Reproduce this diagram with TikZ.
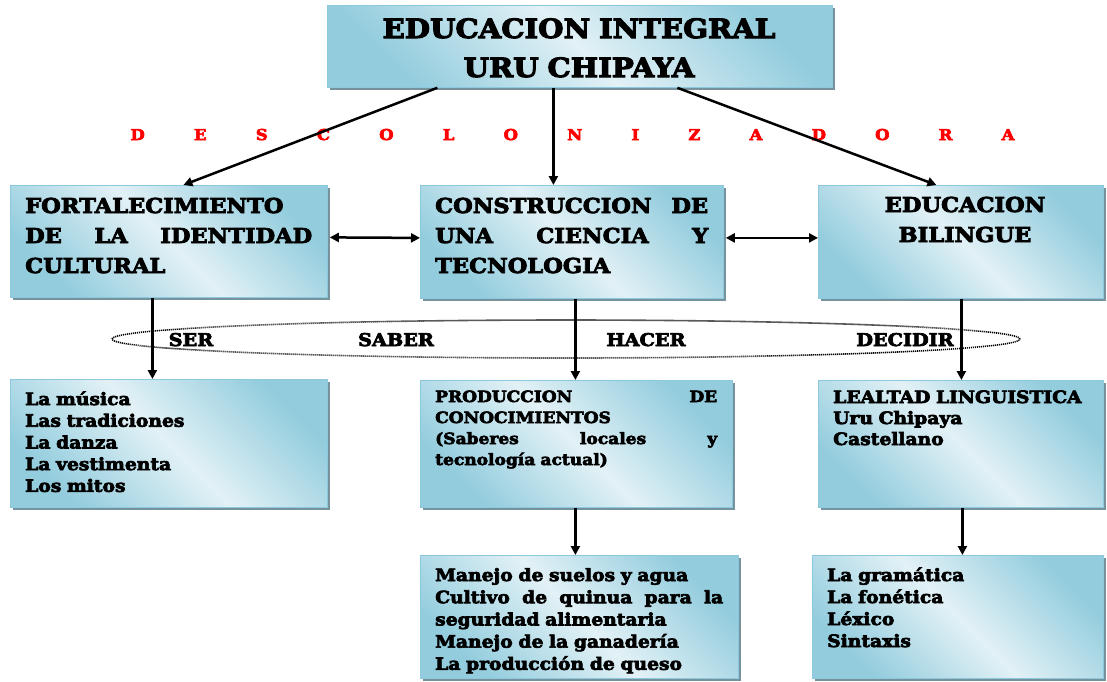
\documentclass[tikz,border=0pt]{standalone}
\usepackage{fontspec}
\setmainfont{DejaVu Serif}[FakeStretch=1.1, BoldFeatures={FakeBold=4}]
\usetikzlibrary{shadows,arrows.meta,calc,shapes.geometric}
\definecolor{edgeblue}{RGB}{146,204,221}
\definecolor{lightblue}{RGB}{226,241,246}
\definecolor{lineblue}{RGB}{140,200,222}
\definecolor{shadowc}{RGB}{118,146,156}
\definecolor{redtxt}{RGB}{255,0,0}
\hyphenpenalty=10000
\exhyphenpenalty=10000
\newcommand\spreadline[2]{\leavevmode\hbox to #1{#2}}
\begin{document}
\begin{tikzpicture}[x=1pt,y=-1pt,
  box/.style={draw=lineblue, line width=0.8pt, left color=edgeblue, right color=edgeblue, middle color=lightblue, shading angle=135,
    drop shadow={shadow xshift=3pt, shadow yshift=-3pt, fill=shadowc, opacity=1},
    inner sep=0pt, anchor=north west},
  txt/.style={inner sep=0pt, anchor=base west, align=left},
  arr/.style={line width=2.5pt, -{Triangle[length=9pt,width=9pt]}},
  darr/.style={line width=2.5pt, {Triangle[length=9pt,width=9pt]}-{Triangle[length=9pt,width=9pt]}},
  lab/.style={inner sep=0pt, anchor=base, font=\bfseries\fontsize{17.5}{17.5}\selectfont}
]
\useasboundingbox (0,0) rectangle (1107,681);

% boxes
\node[box, minimum width=505pt, minimum height=82pt] (top) at (327,5) {};
\node[box, minimum width=317pt, minimum height=112pt] (fort) at (10,185) {};
\node[box, minimum width=303pt, minimum height=113pt] (cons) at (420,185) {};
\node[box, minimum width=285pt, minimum height=113pt] (bil) at (818,185) {};
\node[box, minimum width=317pt, minimum height=128pt] (musica) at (10,379) {};
\node[box, minimum width=312pt, minimum height=127pt] (prod) at (420,380) {};
\node[box, minimum width=285pt, minimum height=127pt] (leal) at (818,380) {};
\node[box, minimum width=318pt, minimum height=123pt] (manejo) at (420,555) {};
\node[box, minimum width=291pt, minimum height=123pt] (gram) at (812,555) {};

% texts
\node[inner sep=0pt, anchor=base, align=center, text width=480pt, font=\bfseries\fontsize{26.5}{39}\selectfont] (toptxt) at (579,38)
  {EDUCACION INTEGRAL\\URU CHIPAYA};
\node[inner sep=0pt, anchor=base, text=redtxt, font=\bfseries\fontsize{15}{15}\selectfont] (desc) at (572.5,140)
  {\hbox to 884pt{D\hfil E\hfil S\hfil C\hfil O\hfil L\hfil O\hfil N\hfil I\hfil Z\hfil A\hfil D\hfil O\hfil R\hfil A}};

\node[txt, text width=287pt, font=\bfseries\fontsize{20.5}{30}\selectfont] (forttxt) at (25,213)
  {FORTALECIMIENTO\\\spreadline{287pt}{DE\hfill LA\hfill IDENTIDAD}\\CULTURAL};
\node[txt, text width=273pt, font=\bfseries\fontsize{20.5}{30}\selectfont] (constxt) at (435,213)
  {\spreadline{273pt}{CONSTRUCCION\hfill DE}\\\spreadline{273pt}{UNA\hfill CIENCIA\hfill Y}\\TECNOLOGIA};
\node[inner sep=0pt, anchor=base, align=center, text width=270pt, font=\bfseries\fontsize{20.5}{30}\selectfont] (biltxt) at (965,212)
  {EDUCACION\\BILINGUE};

\node[txt, text width=290pt, font=\bfseries\fontsize{17}{21.7}\selectfont] (musicatxt) at (25,405)
  {La música\\Las tradiciones\\La danza\\La vestimenta\\Los mitos};
\node[txt, text width=282pt, font=\bfseries\fontsize{15.5}{21}\selectfont] (prodtxt) at (435,402)
  {\spreadline{282pt}{PRODUCCION\hfill DE}\\CONOCIMIENTOS\\\spreadline{282pt}{(Saberes\hfill locales\hfill y}\\tecnología actual)};
\node[txt, text width=270pt, font=\bfseries\fontsize{17}{21}\selectfont] (lealtxt) at (833,403)
  {LEALTAD LINGUISTICA\\Uru Chipaya\\Castellano};
\node[txt, text width=288pt, font=\bfseries\fontsize{17}{22.2}\selectfont] (manejotxt) at (435,581)
  {Manejo de suelos y agua\\\spreadline{288pt}{Cultivo\hfill de\hfill quinua\hfill para\hfill la}\\seguridad alimentaria\\Manejo de la ganadería\\La producción de queso};
\node[txt, text width=270pt, font=\bfseries\fontsize{17}{22}\selectfont] (gramtxt) at (827,581)
  {La gramática\\La fonética\\Léxico\\Sintaxis};

% dotted ring
\node[ellipse, draw, line width=1.6pt, dash pattern=on 1.1pt off 0.9pt, minimum width=908pt, minimum height=38pt, inner sep=0pt] (ring) at (566,339) {};
\node[lab] (ser) at (191,346) {SER};
\node[lab] (saber) at (396,346) {SABER};
\node[lab] (hacer) at (646,346) {HACER};
\node[lab] (decidir) at (905,346) {DECIDIR};

% connectors
\draw[arr] ([xshift=-142.5pt]top.south) -- ([xshift=14.5pt]fort.north);
\draw[arr] ([xshift=-26.5pt]top.south) -- ([xshift=-26.5pt]top.south |- cons.north);
\draw[arr] ([xshift=97.5pt]top.south) -- ([xshift=-24.5pt]bil.north);
\draw[darr] ([xshift=2pt,yshift=4pt]fort.east) -- ([yshift=4pt]cons.west);
\draw[darr] ([xshift=2pt,yshift=4pt]cons.east) -- ([yshift=4pt]bil.west);
\draw[arr] ([xshift=-16.5pt]fort.south) -- ([xshift=-16.5pt]fort.south |- musica.north);
\draw[arr] ([xshift=3.5pt]cons.south) -- ([xshift=3.5pt]cons.south |- prod.north);
\draw[arr] ([xshift=0.5pt]bil.south) -- ([xshift=0.5pt]bil.south |- leal.north);
\draw[arr] ([xshift=-1pt]prod.south) -- ([xshift=-1pt]prod.south |- manejo.north);
\draw[arr] ([xshift=1.5pt]leal.south) -- ([xshift=1.5pt]leal.south |- gram.north);
\end{tikzpicture}
\end{document}
